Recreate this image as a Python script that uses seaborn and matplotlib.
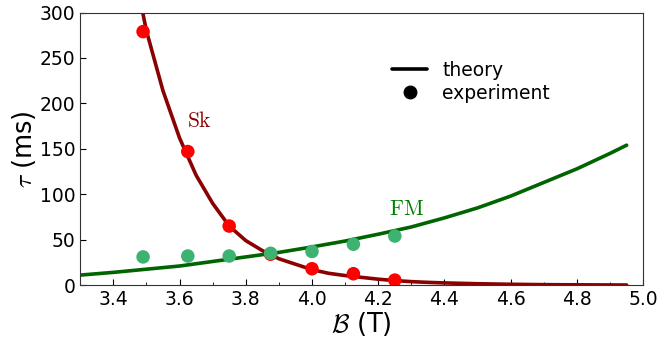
import numpy as np
import pandas as pd
import seaborn as sns
import matplotlib.pyplot as plt
from matplotlib.lines import Line2D
from matplotlib.ticker import MultipleLocator

# experiment
B_exp = [3.49, 3.625, 3.75, 3.875, 4.0, 4.125, 4.25]
tau_sk_exp = [279, 147, 65, 34, 18, 12.5, 5.5]
tau_fm_exp = [31, 32, 32, 35, 37, 45, 54]

# theory
B_sk = [3.45, 3.50, 3.55, 3.60, 3.65, 3.70, 3.75, 3.80, 3.85, 3.90, 3.95, 4.00,
        4.05, 4.10, 4.15, 4.20, 4.25, 4.30, 4.35, 4.40, 4.50, 4.60, 4.70, 4.80, 4.95]
tau_sk = [370, 280, 214, 162, 121, 90, 65, 49, 38, 29, 23, 17,
          13, 10.5, 8.5, 6.5, 5, 3.8, 3, 2.4, 1.5, 0.9, 0.5, 0.3, 0.1]
B_fm = [3.3, 3.4, 3.5, 3.6, 3.7, 3.8, 3.9, 4.0, 4.1, 4.2, 4.3, 4.4, 4.5,
        4.6, 4.7, 4.8, 4.9, 4.95]
tau_fm = [11, 14, 17.5, 21, 26, 31, 36, 42, 48.5, 56, 64, 74, 85,
          98, 113, 128, 145, 154]

sns.set_style("ticks")
plt.rcParams['font.family'] = ['DejaVu Sans']
plt.rcParams['mathtext.fontset'] = 'cm'
plt.rcParams['text.color'] = 'black'
plt.rcParams['axes.labelcolor'] = 'black'
plt.rcParams['xtick.color'] = 'black'
plt.rcParams['ytick.color'] = 'black'
plt.rcParams['axes.edgecolor'] = '#333333'

fig = plt.figure(figsize=(6.57, 3.39), dpi=100)
ax = fig.add_axes([0.122, 0.159, 0.857, 0.804])

sns.lineplot(x=B_sk, y=tau_sk, color='darkred', lw=2.6, ax=ax)
sns.lineplot(x=B_fm, y=tau_fm, color='darkgreen', lw=2.6, ax=ax)
sns.scatterplot(x=B_exp, y=tau_sk_exp, color='red', s=95, edgecolor='none', ax=ax, zorder=3)
sns.scatterplot(x=B_exp, y=tau_fm_exp, color='mediumseagreen', s=95, edgecolor='none', ax=ax, zorder=3)

ax.text(3.66, 181, r'$\mathrm{Sk}$', color='darkred', fontsize=15.5, ha='center', va='center')
ax.text(4.285, 84, r'$\mathrm{FM}$', color='green', fontsize=15.5, ha='center', va='center')

ax.set_xlim(3.3, 5.0)
ax.set_ylim(0, 300)
ax.xaxis.set_major_locator(MultipleLocator(0.2))
ax.xaxis.set_minor_locator(MultipleLocator(0.1))
ax.yaxis.set_major_locator(MultipleLocator(50))
ax.tick_params(which='both', direction='in', labelsize=13.5)
ax.tick_params(which='major', length=4)
ax.tick_params(which='minor', length=2.5)
ax.set_xlabel(r'$\mathcal{B}$ (T)', fontsize=18.5, labelpad=1)
ax.set_ylabel(r'$\tau$ (ms)', fontsize=18.5, labelpad=1)

handles = [Line2D([], [], color='black', lw=2.6),
           Line2D([], [], color='black', marker='o', ls='none', markersize=9)]
ax.legend(handles, ['theory', 'experiment'], loc='upper left', frameon=False,
          bbox_to_anchor=(0.54, 0.85), fontsize=13.5, handlelength=1.9,
          borderaxespad=0, labelspacing=0.2, handletextpad=0.8)

fig.savefig('out.png', dpi=100)
